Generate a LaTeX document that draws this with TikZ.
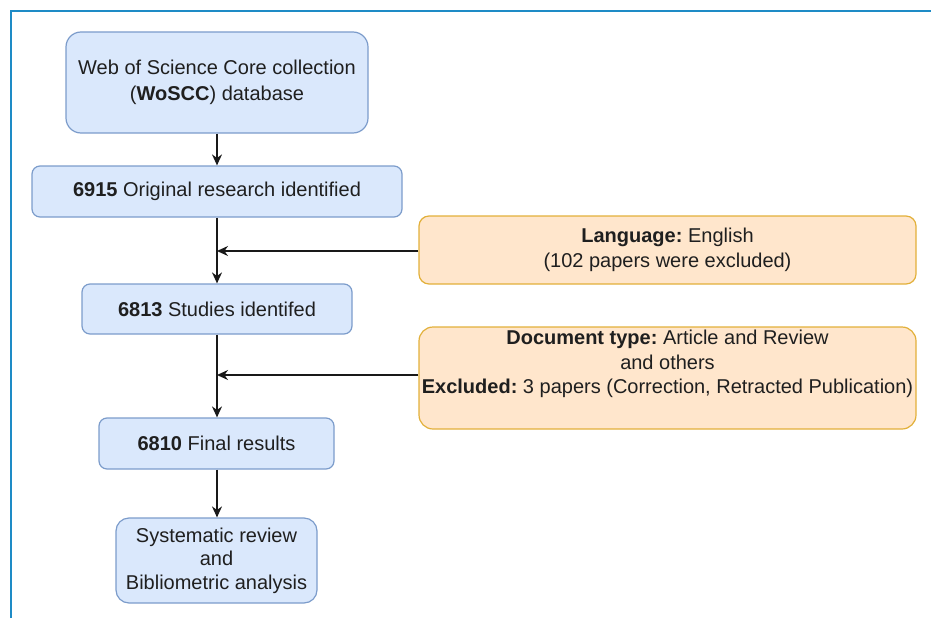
\documentclass[tikz,border=0pt]{standalone}
\usepackage{fontspec}
\setmainfont{Liberation Sans}
\frenchspacing
\usetikzlibrary{arrows.meta}
\definecolor{frameblue}{HTML}{1E8BC6}
\definecolor{bfill}{HTML}{DAE8FC}
\definecolor{bdraw}{HTML}{7C9CCB}
\definecolor{ofill}{HTML}{FFE6CC}
\definecolor{odraw}{HTML}{E2B03A}
\tikzset{
  bbox/.style={draw=bdraw, fill=bfill, line width=1.2pt, inner sep=0pt, align=center,
    font=\frenchspacing\fontsize{20}{25.5}\selectfont, text=black!88},
  obox/.style={draw=odraw, fill=ofill, line width=1.2pt, inner sep=0pt, align=center,
    font=\frenchspacing\fontsize{20}{24.5}\selectfont, text=black!88},
  conn/.style={line width=1.5pt, -{Stealth[length=11pt,width=10pt]}, black!90},
}
\begin{document}
\begin{tikzpicture}[x=1pt,y=-1pt]
\useasboundingbox (0,0) rectangle (931,618);
\draw[frameblue, line width=2.4pt] (11,618) -- (11,11) -- (931,11);

\node[bbox, rounded corners=15pt, minimum width=302pt, minimum height=101pt] (n1) at (217,82.5)
  {Web of Science Core collection\\(\textbf{WoSCC}) database};
\node[bbox, rounded corners=8pt, minimum width=370pt, minimum height=51pt] (n2) at (217,191.5)
  {\textbf{6915} Original research identified};
\node[bbox, rounded corners=8pt, minimum width=270pt, minimum height=50pt] (n3) at (217,309)
  {\textbf{6813} Studies identifed};
\node[bbox, rounded corners=8pt, minimum width=235pt, minimum height=51pt] (n4) at (216.5,443.5)
  {\textbf{6810} Final results};
\node[bbox, rounded corners=13pt, minimum width=201pt, minimum height=85pt,
  font=\fontsize{20}{23.5}\selectfont] (n5) at (216.5,560.5)
  {Systematic review\\and\\Bibliometric analysis};

\node[obox, rounded corners=10pt, minimum width=497pt, minimum height=68pt] (o1) at (667.5,250)
  {\textbf{Language:} English\\(102 papers were excluded)};
\node[obox, rounded corners=14pt, minimum width=497pt, minimum height=102pt] (o2) at (667.5,378)
  {\textbf{Document type:} Article and Review\\and others\\\textbf{Excluded:} 3 papers (Correction, Retracted Publication)\\\strut};

\draw[conn] (n1.south -| 217,0) -- (n2.north -| 217,0);
\draw[conn] (n2.south -| 217,0) -- (n3.north -| 217,0);
\draw[conn] (n3.south -| 217,0) -- (n4.north -| 217,0);
\draw[conn] (n4.south -| 217,0) -- (n5.north -| 217,0);

\coordinate (j1) at (217,251);
\coordinate (j2) at (217,375);
\draw[conn] (o1.west |- j1) -- (j1);
\draw[conn] (o2.west |- j2) -- (j2);
\end{tikzpicture}
\end{document}
